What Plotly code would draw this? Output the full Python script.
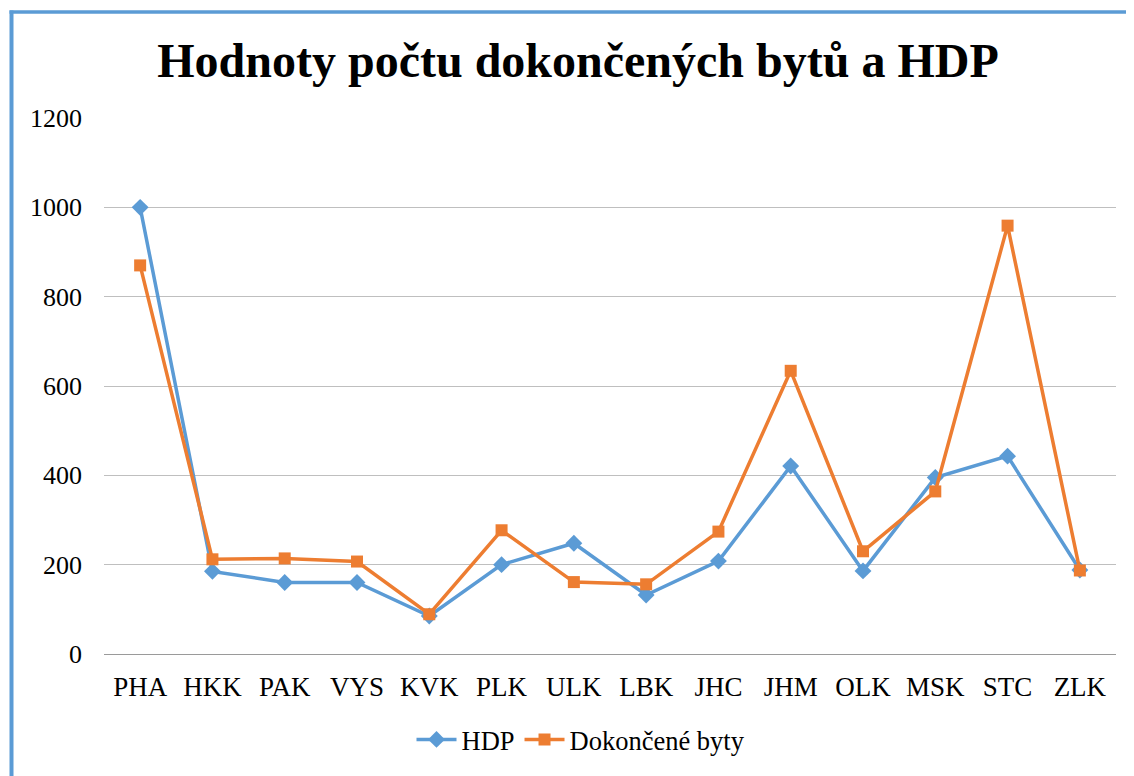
import plotly.graph_objects as go

categories = ["PHA", "HKK", "PAK", "VYS", "KVK", "PLK", "ULK", "LBK", "JHC", "JHM", "OLK", "MSK", "STC", "ZLK"]
hdp = [1000, 185, 160, 160, 85, 200, 248, 132, 208, 421, 186, 395, 443, 188]
byty = [870, 212, 214, 207, 89, 277, 161, 156, 274, 634, 230, 364, 959, 187]

OFF = 8  # page body margin
W, H = 1134 - OFF, 776 - OFF
L, R, T, B = 104 - OFF, 18, 118 - OFF, 120
pw = W - L - R
ph = H - T - B

def px(x):
    return (x - OFF - L) / pw

def py(y):
    return (H - B - (y - OFF)) / ph

font_family = "Liberation Serif"

fig = go.Figure()
fig.add_trace(go.Scatter(
    x=categories, y=hdp, name="HDP", mode="lines+markers",
    line=dict(color="#5B9BD5", width=3.5),
    marker=dict(symbol="diamond", size=13, color="#5B9BD5"),
))
fig.add_trace(go.Scatter(
    x=categories, y=byty, name="Dokončené byty", mode="lines+markers",
    line=dict(color="#ED7D31", width=3.5),
    marker=dict(symbol="square", size=12, color="#ED7D31"),
))

fig.update_layout(
    width=W, height=H,
    margin=dict(l=L, r=R, t=T, b=B),
    paper_bgcolor="white", plot_bgcolor="white",
    font=dict(family=font_family, color="black", size=26),
    title=dict(text="<b>Hodnoty počtu dokončených bytů a HDP</b>",
               font=dict(family=font_family, size=48, color="black"),
               xref="container", yref="container",
               x=(578 - OFF) / W, xanchor="center", y=1 - (60 - OFF) / H, yanchor="middle"),
    showlegend=True,
    legend=dict(orientation="h", x=px(581), xanchor="center", y=py(742), yanchor="middle",
                font=dict(family=font_family, size=26.5, color="black"),
                itemwidth=40, tracegroupgap=0),
    xaxis=dict(type="category", range=[-0.5, len(categories) - 0.5],
               showgrid=False, showline=False, zeroline=False, ticks="",
               tickfont=dict(family=font_family, size=27, color="black"),
               ticklabelstandoff=14),
    yaxis=dict(range=[0, 1200], dtick=200, showgrid=True, gridcolor="#BFBFBF", gridwidth=1.3,
               zeroline=True, zerolinecolor="#9A9A9A", zerolinewidth=1.3,
               showline=False, ticks="",
               tickfont=dict(family=font_family, size=26, color="black"),
               ticklabelstandoff=21),
    shapes=[
        dict(type="line", xref="paper", yref="paper", x0=px(11.5), x1=px(11.5), y0=py(10), y1=py(800),
             line=dict(color="#5B9BD5", width=4)),
        dict(type="line", xref="paper", yref="paper", x0=px(9.5), x1=px(1140), y0=py(11.5), y1=py(11.5),
             line=dict(color="#5B9BD5", width=3.5)),
    ],
)

fig.write_html("out.html")
